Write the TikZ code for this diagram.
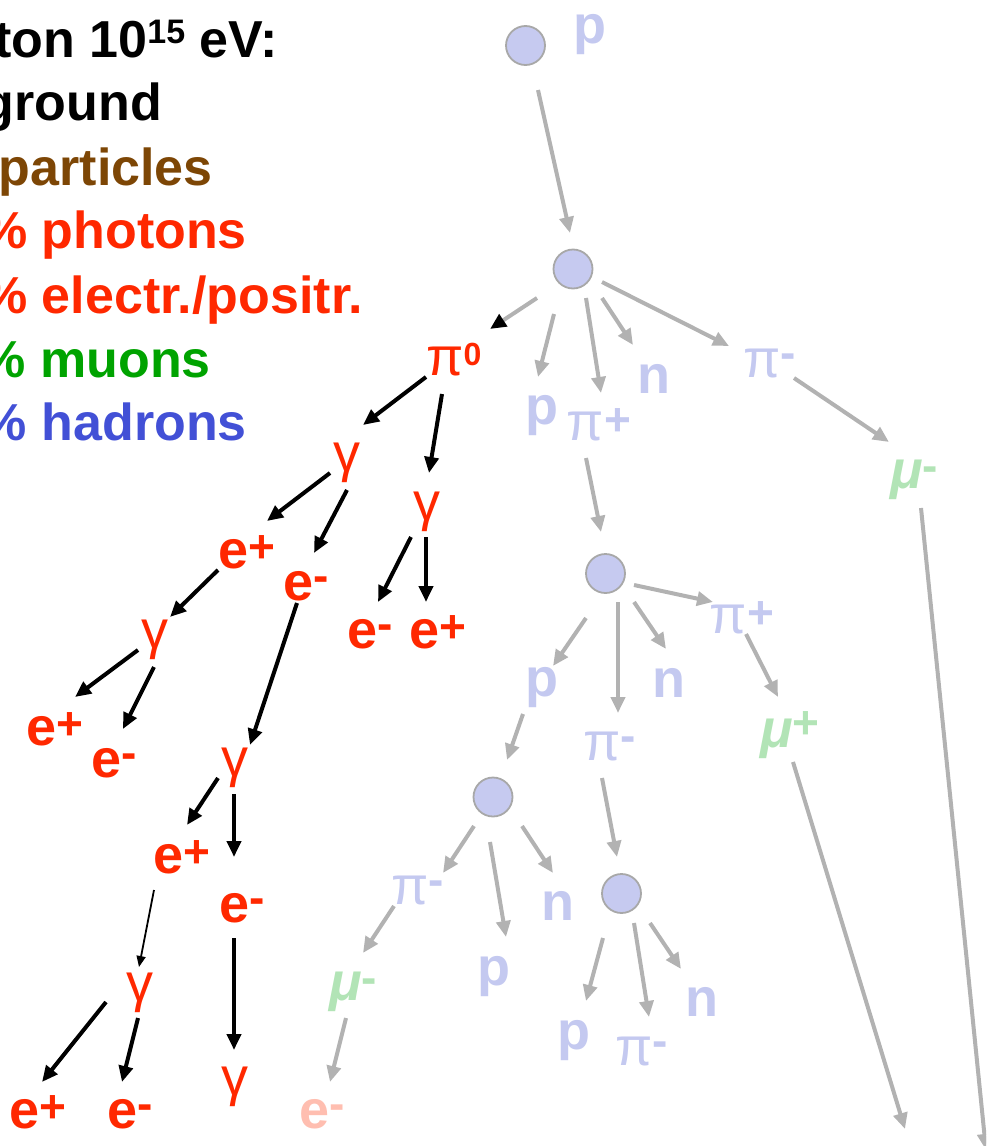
\documentclass[tikz,border=0pt]{standalone}
\usepackage{fontspec}
\setmainfont{Liberation Sans}
\usetikzlibrary{arrows.meta,calc}
\definecolor{cred}{RGB}{255,40,0}
\definecolor{cbrown}{RGB}{125,70,5}
\definecolor{cgreen}{RGB}{0,163,0}
\definecolor{cblue}{RGB}{66,80,214}
\definecolor{had}{RGB}{196,201,240}
\definecolor{mulight}{RGB}{178,228,182}
\definecolor{elight}{RGB}{255,190,176}
\definecolor{agray}{RGB}{178,178,178}
\definecolor{vfill}{RGB}{198,202,240}
\definecolor{vline}{RGB}{168,168,168}
\newcommand\supx[2]{\raisebox{#1}{\fontsize{46}{46}\selectfont #2}}
\newcommand\eplus{e\supx{5.5pt}{+}}
\newcommand\eminus{e\supx{9pt}{-}}
\newcommand\pii{{\mdseries π}}
\newcommand\gam{{\mdseries γ}}
\newcommand\mmu{{\itshape μ}}
\tikzset{
  lab/.style={inner sep=0pt, anchor=base, font=\fontsize{54}{60}\selectfont\bfseries},
  ttl/.style={inner sep=0pt, anchor=base east, font=\fontsize{52}{62}\selectfont\bfseries},
  hadl/.style={lab, text=had},
  redl/.style={lab, text=cred},
  mul/.style={lab, text=mulight},
  vtx/.style={circle, draw=vline, fill=vfill, line width=1.8pt, minimum size=39pt, inner sep=0pt},
  garr/.style={draw=agray, line width=4pt, -{Triangle[length=16pt,width=14pt]}},
  gbarr/.style={draw=agray, line width=4pt, -{Triangle[length=16pt,width=14pt,color=black]}},
  barr/.style={draw=black, line width=4pt, -{Triangle[length=16pt,width=14pt]}},
  thinarr/.style={draw=black, line width=1.8pt, -{Triangle[length=11pt,width=9pt]}}
}
\begin{document}
\begin{tikzpicture}[x=1pt,y=-1pt]
\useasboundingbox (0,0) rectangle (986,1146);
\clip (0,0) rectangle (986,1146);
% title lines
\node[ttl] (t1) at (278,57) {ton 10\raisebox{14pt}{\fontsize{34}{34}\selectfont 15} eV:};
\node[ttl] (t2) at (162,120) {ground};
\node[ttl, text=cbrown] (t3) at (213,185) {particles};
\node[ttl, text=cred] (t4) at (247,248) {\% photons};
\node[ttl, text=cred] (t5) at (363,313) {\% electr./positr.};
\node[ttl, text=cgreen] (t6) at (211,377) {\% muons};
\node[ttl, text=cblue] (t7) at (247,440) {\% hadrons};
% vertices
\node[vtx] (c0) at (525.5,45.5) {};
\node[vtx] (c1) at (573,269) {};
\node[vtx] (c2) at (605.5,573.5) {};
\node[vtx] (c3) at (493,797) {};
\node[vtx] (c4) at (621.5,893.5) {};
% hadronic labels
\node[hadl] (pTop) at (590,43) {p};
\node[hadl] (p1) at (542,424) {p};
\node[hadl] (pip1) at (599,440) {\pii\supx{4.5pt}{+}};
\node[hadl] (n1) at (654,393) {n};
\node[hadl] (pim1) at (770,377) {\pii\supx{9pt}{-}};
\node[mul] (mum1) at (914,488) {\mmu\supx{7pt}{-}};
\node[hadl] (pip2) at (742,633) {\pii\supx{4.5pt}{+}};
\node[hadl] (p2) at (542,696) {p};
\node[hadl] (n2) at (669,697) {n};
\node[hadl] (pim2) at (610,760) {\pii\supx{9pt}{-}};
\node[mul] (mup) at (790,747) {\mmu\supx{8.5pt}{+}};
\node[hadl] (pim3) at (418,904) {\pii\supx{9pt}{-}};
\node[hadl] (n3) at (558,920) {n};
\node[hadl] (p3) at (494,985) {p};
\node[mul] (mum2) at (353,1000) {\mmu\supx{7pt}{-}};
\node[lab, text=elight] (emL) at (322,1128) {\eminus};
\node[hadl] (p4) at (574,1049) {p};
\node[hadl] (pim4) at (642,1065) {\pii\supx{9pt}{-}};
\node[hadl] (n4) at (702,1016) {n};
% electromagnetic labels
\node[redl] (pi0) at (454,375) {\pii\raisebox{10pt}{\fontsize{32}{32}\selectfont 0}};
\node[redl] (g1) at (347,471) {\gam};
\node[redl] (g2) at (427,520) {\gam};
\node[redl] (ep1) at (247,568) {\eplus};
\node[redl] (em1) at (306,600) {\eminus};
\node[redl] (em2) at (370,648) {\eminus};
\node[redl] (ep2) at (438,648) {\eplus};
\node[redl] (g3) at (155,648) {\gam};
\node[redl] (ep3) at (55,745) {\eplus};
\node[redl] (em3) at (114,777) {\eminus};
\node[redl] (g4) at (235,776) {\gam};
\node[redl] (ep4) at (182,873) {\eplus};
\node[redl] (em4) at (242,922) {\eminus};
\node[redl] (g5) at (140,1001) {\gam};
\node[redl] (ep5) at (38,1128) {\eplus};
\node[redl] (em5) at (130,1128) {\eminus};
\node[redl] (g6) at (235,1095) {\gam};
% free ends
\coordinate (mumEnd) at (986,1150);
\coordinate (mupEnd) at (905,1129);
% gray connectors
\draw[garr] ($(c0)+(12.5,44.5)$) -- ($(c1)+(-3,-36)$);
\draw[gbarr] ($(c1)+(-36,29)$) -- ($(pi0.base)+(36,-46)$);
\draw[garr] ($(c1)+(-19,45)$) -- ($(p1.base)+(-4,-47)$);
\draw[garr] ($(c1)+(13,29)$) -- ($(pip1.base)+(2,-47)$);
\draw[garr] ($(c1)+(29,29)$) -- ($(n1.base)+(-21,-48)$);
\draw[garr] ($(c1)+(29,13)$) -- ($(pim1.base)+(-41,-31)$);
\draw[garr] ($(pim1.base)+(24,1)$) -- ($(mum1.base)+(-25,-46)$);
\draw[garr] ($(mum1.base)+(7,20)$) -- (mumEnd);
\draw[garr] ($(pip1.base)+(-13,18)$) -- ($(c2)+(-4.5,-41.5)$);
\draw[garr] ($(c2)+(28.5,11.5)$) -- ($(pip2.base)+(-29,-31)$);
\draw[garr] ($(c2)+(-19.5,44.5)$) -- ($(p2.base)+(11,-30)$);
\draw[garr] ($(c2)+(12.5,28.5)$) -- ($(pim2.base)+(8,-47)$);
\draw[garr] ($(c2)+(28.5,28.5)$) -- ($(n2.base)+(-3,-48)$);
\draw[garr] ($(pip2.base)+(4,1)$) -- ($(mup.base)+(-12,-50)$);
\draw[garr] ($(mup.base)+(3,15)$) -- (mupEnd);
\draw[garr] ($(p2.base)+(-19,18)$) -- ($(c3)+(14,-37)$);
\draw[garr] ($(pim2.base)+(-8,18)$) -- ($(c4)+(-4.5,-36.5)$);
\draw[garr] ($(c3)+(-19,29)$) -- ($(pim3.base)+(25,-31)$);
\draw[garr] ($(c3)+(-3,45)$) -- ($(p3.base)+(12,-48)$);
\draw[garr] ($(c3)+(29,29)$) -- ($(n3.base)+(-5,-47)$);
\draw[garr] ($(pim3.base)+(-24,2)$) -- ($(mum2.base)+(10,-47)$);
\draw[garr] ($(mum2.base)+(-7,18)$) -- ($(emL.base)+(8,-46)$);
\draw[garr] ($(c4)+(-18.5,44.5)$) -- ($(p4.base)+(12,-48)$);
\draw[garr] ($(c4)+(12.5,29.5)$) -- ($(pim4.base)+(7,-48)$);
\draw[garr] ($(c4)+(28.5,29.5)$) -- ($(n4.base)+(-21,-47)$);
% black connectors
\draw[barr] ($(pi0.base)+(-28,2)$) -- ($(g1.base)+(16,-46)$);
\draw[barr] ($(pi0.base)+(-12,19)$) -- ($(g2.base)+(2,-47)$);
\draw[barr] ($(g1.base)+(-17,2)$) -- ($(ep1.base)+(20,-47)$);
\draw[barr] ($(g1.base)+(0,19)$) -- ($(em1.base)+(8,-47)$);
\draw[barr] ($(g2.base)+(-16,17)$) -- ($(em2.base)+(8,-46)$);
\draw[barr] ($(g2.base)+(-1,17)$) -- ($(ep2.base)+(-12,-46)$);
\draw[barr] ($(ep1.base)+(-29,2)$) -- ($(g3.base)+(15,-31)$);
\draw[barr] ($(em1.base)+(-9,3)$) -- ($(g4.base)+(15,-31)$);
\draw[barr] ($(g3.base)+(-17,2)$) -- ($(ep3.base)+(20,-48)$);
\draw[barr] ($(g3.base)+(-1,19)$) -- ($(em3.base)+(9,-48)$);
\draw[barr] ($(g4.base)+(-17,2)$) -- ($(ep4.base)+(5,-48)$);
\draw[barr] ($(g4.base)+(-1,18)$) -- ($(em4.base)+(-8,-65)$);
\draw[thinarr] ($(ep4.base)+(-28,17)$) -- ($(g5.base)+(-1,-34)$);
\draw[barr] ($(em4.base)+(-8,16)$) -- ($(g6.base)+(-1,-45)$);
\draw[barr] ($(g5.base)+(-34,1)$) -- ($(ep5.base)+(4,-46)$);
\draw[barr] ($(g5.base)+(-2,17)$) -- ($(em5.base)+(-8,-46)$);
\end{tikzpicture}
\end{document}
